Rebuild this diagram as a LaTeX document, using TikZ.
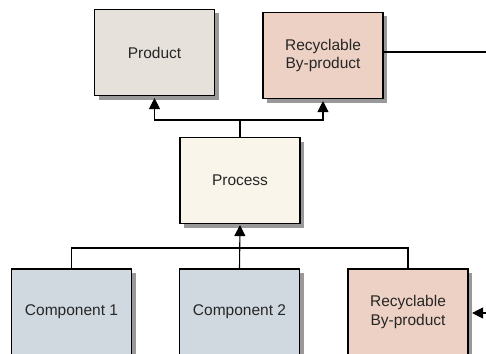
\documentclass[tikz,border=0pt]{standalone}
\usepackage{fontspec}
\setmainfont{Liberation Sans}
\usetikzlibrary{shadows,arrows.meta}
\definecolor{prodc}{HTML}{E6E1DB}
\definecolor{recc}{HTML}{EDD1C4}
\definecolor{procc}{HTML}{F9F5EA}
\definecolor{compc}{HTML}{D0D9E0}
\definecolor{shadc}{HTML}{999999}
\tikzset{
  box/.style={draw=black, line width=1.1pt, minimum width=120pt, minimum height=86pt, inner sep=0pt,
    align=center, font=\fontsize{15.5}{18.5}\selectfont, text=black!85,
    drop shadow={shadow xshift=4pt, shadow yshift=-4pt, fill=shadc, opacity=1}},
  conn/.style={draw=black, line width=1.1pt},
  arr/.style={conn, -{Triangle[width=11pt,length=11pt]}},
}
\begin{document}
\begin{tikzpicture}[x=1pt,y=-1pt]
\useasboundingbox (0,0) rectangle (486,353);
\clip (0,0) rectangle (486,353);
\node[box, fill=prodc] (prod) at (154.5,52.5) {Product};
\node[box, fill=recc] (rec) at (323,55.5) {Recyclable\\By-product};
\node[box, fill=procc] (proc) at (240,180.5) {Process};
\node[box, fill=compc] (c1) at (71.5,312) {Component 1};
\node[box, fill=compc] (c2) at (239.5,312) {Component 2};
\node[box, fill=recc] (c3) at (408,312) {Recyclable\\By-product};
\coordinate (jt) at (240,120);
\coordinate (jb) at (240,248);
\coordinate (outt) at (486,52);
\coordinate (inb) at (486,313);
\draw[conn] (proc.north) -- (jt);
\draw[arr, shorten >=2pt] (jt) -| (prod.south);
\draw[arr, shorten >=2pt] (jt) -| (rec.south);
\draw[conn] (c1.north) |- (jb) -| (c3.north);
\draw[arr, shorten >=1pt] (c2.north) -- (proc.south);
\draw[conn] (rec.east |- outt) -- (outt);
\draw[arr, shorten >=3.5pt] (inb) -- (c3.east |- inb);
\end{tikzpicture}
\end{document}
